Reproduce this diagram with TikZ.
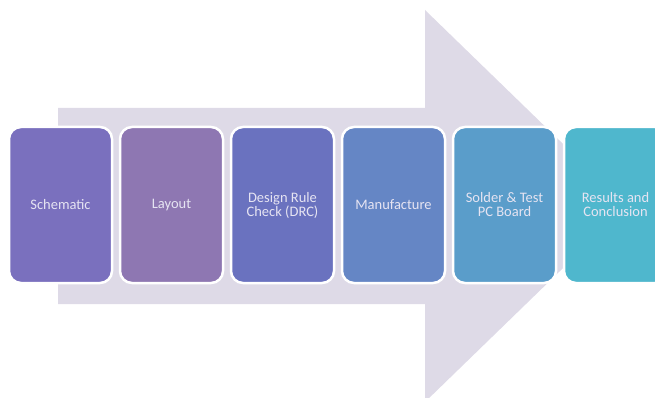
\documentclass[tikz,border=0pt]{standalone}
\usepackage{fontspec}
\setmainfont{Carlito}
\usepackage{tikz}
\usetikzlibrary{positioning}

\definecolor{arrowbg}{HTML}{DEDAE7}
\definecolor{stepA}{HTML}{7A70BE}
\definecolor{stepB}{HTML}{8E77B2}
\definecolor{stepC}{HTML}{6A72BF}
\definecolor{stepD}{HTML}{6586C5}
\definecolor{stepE}{HTML}{5A9DCA}
\definecolor{stepF}{HTML}{4FB7CD}
\definecolor{steptext}{HTML}{E6E4F2}

\begin{document}
\begin{tikzpicture}[x=1pt,y=-1pt,node distance=5.5pt,
    stepbox/.style={draw=white,line width=2.5pt,rounded corners=12pt,minimum width=103pt,minimum height=156pt,
      align=center,text=steptext,font=\fontsize{14.5}{14}\selectfont,inner sep=2pt}]
        \clip (0,0) rectangle (655,398);
        % background arrow
        \fill[arrowbg] (58,108) -- (425,108) -- (425,10) -- (627,206) -- (425,402) -- (425,304) -- (58,304) -- cycle;
        % process steps
        \node[stepbox,fill=stepA] (sch) at (60.5,205) {Schematic};
        \node[stepbox,fill=stepB,right=of sch] (lay) {Layout};
        \node[stepbox,fill=stepC,right=of lay] (drc) {Design Rule\\Check (DRC)};
        \node[stepbox,fill=stepD,right=of drc] (man) {Manufacture};
        \node[stepbox,fill=stepE,right=of man] (sol) {Solder \& Test\\PC Board};
        \node[stepbox,fill=stepF,right=of sol] (res) {Results and\\Conclusion};
      \end{tikzpicture}
\end{document}
